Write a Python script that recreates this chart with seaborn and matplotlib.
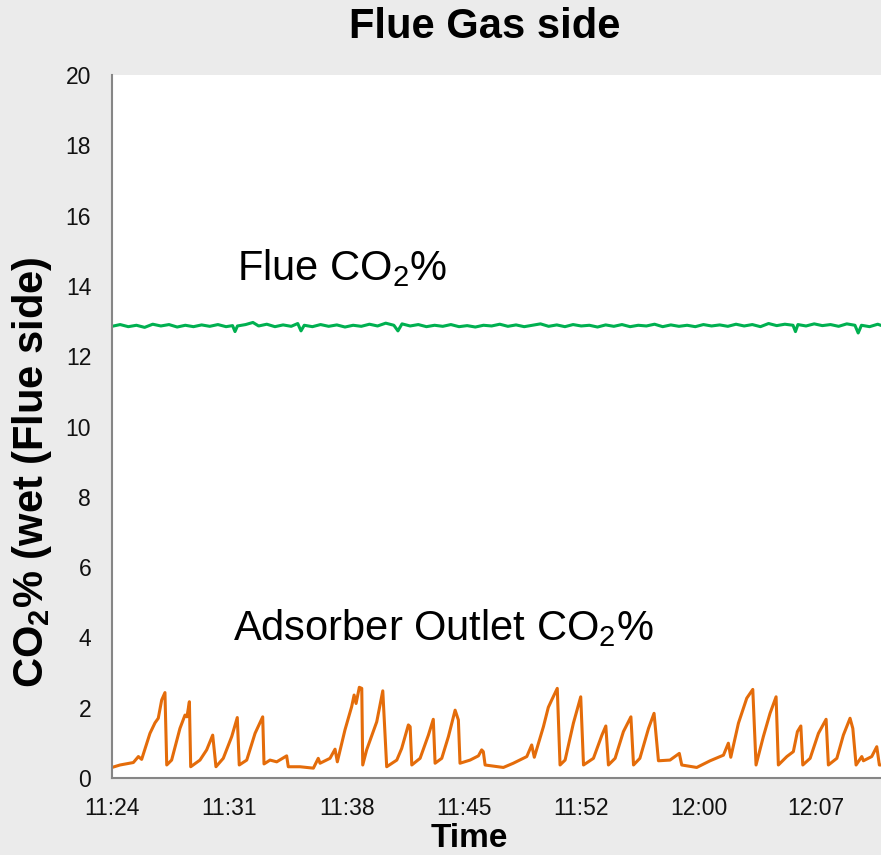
import numpy as np
import pandas as pd
import matplotlib
matplotlib.use('Agg')
import matplotlib.pyplot as plt
import seaborn as sns

# time axis in minutes after 11:24 (major unit 0.005 day = 7.2 min)
tick_min = [0, 7.2, 14.4, 21.6, 28.8, 36.0, 43.2]
tick_labels = ['11:24', '11:31', '11:38', '11:45', '11:52', '12:00', '12:07']

# adsorber outlet CO2 %
outlet_min = [0, 0.49, 1.31, 1.62, 1.82, 2.33, 2.64, 2.84, 3.05, 3.25,
              3.36, 3.66, 4.17, 4.48, 4.6, 4.75, 4.83, 5.40, 5.81, 6.18,
              6.38, 6.83, 7.35, 7.69, 7.81, 8.27, 8.78, 9.25, 9.33, 9.70,
              10.11, 10.72, 10.82, 11.54, 12.36, 12.66, 12.77, 13.38, 13.69, 13.83,
              14.30, 14.71, 14.86, 14.98, 15.18, 15.33, 15.39, 15.63, 16.25, 16.62,
              16.86, 17.48, 17.78, 18.19, 18.30, 18.40, 18.91, 19.42, 19.72, 19.83,
              20.24, 20.65, 21.06, 21.26, 21.36, 21.98, 22.49, 22.69, 22.79, 22.90,
              24.02, 24.63, 25.46, 25.76, 25.92, 26.48, 26.78, 26.99, 27.33, 27.50,
              27.81, 28.32, 28.77, 28.94, 29.55, 30.07, 30.31, 30.47, 30.88, 31.39,
              31.85, 32.01, 32.40, 32.93, 33.27, 33.54, 34.25, 34.82, 34.97, 35.89,
              36.71, 37.53, 37.83, 37.98, 38.45, 38.96, 39.33, 39.53, 39.98, 40.39,
              40.76, 40.90, 41.42, 41.82, 42.07, 42.28, 42.40, 42.85, 43.36, 43.83,
              43.97, 44.49, 44.89, 45.30, 45.47, 45.67, 46.02, 46.12, 46.63, 46.94,
              47.10, 47.3]
outlet_co2 = [0.30, 0.37, 0.44, 0.61, 0.53, 1.27, 1.57, 1.70, 2.22, 2.43,
              0.37, 0.51, 1.41, 1.79, 1.74, 2.17, 0.32, 0.51, 0.80, 1.22,
              0.32, 0.56, 1.18, 1.72, 0.37, 0.51, 1.27, 1.74, 0.40, 0.51,
              0.46, 0.63, 0.32, 0.32, 0.28, 0.56, 0.42, 0.56, 0.82, 0.46,
              1.37, 2.03, 2.36, 2.12, 2.58, 2.55, 0.37, 0.80, 1.60, 2.48,
              0.32, 0.51, 0.84, 1.51, 1.46, 0.37, 0.56, 1.22, 1.67, 0.42,
              0.56, 1.18, 1.93, 1.65, 0.42, 0.51, 0.63, 0.80, 0.75, 0.37,
              0.30, 0.42, 0.61, 0.94, 0.59, 1.46, 2.01, 2.22, 2.55, 0.37,
              0.51, 1.56, 2.31, 0.37, 0.56, 1.22, 1.48, 0.37, 0.56, 1.32,
              1.74, 0.37, 0.56, 1.41, 1.84, 0.49, 0.51, 0.70, 0.37, 0.30,
              0.49, 0.65, 0.99, 0.59, 1.56, 2.27, 2.52, 0.37, 1.18, 1.84,
              2.31, 0.37, 0.61, 0.75, 1.32, 1.48, 0.37, 0.56, 1.27, 1.67,
              0.37, 0.56, 1.22, 1.70, 1.41, 0.37, 0.61, 0.49, 0.61, 0.89,
              0.37, 0.37]

# flue gas CO2 %
flue_min = [0.0, 0.5, 1.0, 1.5, 2.0, 2.5, 3.0, 3.5, 4.0, 4.5,
            5.0, 5.5, 6.0, 6.5, 7.0, 7.4, 7.55, 7.7, 8.2, 8.65,
            9.0, 9.5, 10.0, 10.5, 11.0, 11.4, 11.6, 11.8, 12.3, 12.8,
            13.3, 13.8, 14.3, 14.8, 15.3, 15.8, 16.3, 16.8, 17.3, 17.55,
            17.8, 18.3, 18.8, 19.3, 19.8, 20.3, 20.8, 21.3, 21.8, 22.3,
            22.8, 23.3, 23.8, 24.3, 24.8, 25.3, 25.8, 26.3, 26.8, 27.3,
            27.8, 28.3, 28.8, 29.3, 29.8, 30.3, 30.8, 31.3, 31.8, 32.3,
            32.8, 33.3, 33.8, 34.3, 34.8, 35.3, 35.8, 36.3, 36.8, 37.3,
            37.8, 38.3, 38.8, 39.3, 39.8, 40.3, 40.8, 41.3, 41.8, 41.95,
            42.1, 42.6, 43.1, 43.6, 44.1, 44.6, 45.1, 45.6, 45.8, 46.0,
            46.5, 47.0, 47.3]
flue_co2 = [12.85, 12.90, 12.84, 12.88, 12.82, 12.91, 12.86, 12.90, 12.83, 12.88,
            12.84, 12.89, 12.85, 12.90, 12.84, 12.87, 12.70, 12.86, 12.90, 12.96,
            12.86, 12.91, 12.84, 12.89, 12.85, 12.93, 12.72, 12.88, 12.84, 12.90,
            12.85, 12.89, 12.83, 12.88, 12.85, 12.91, 12.86, 12.94, 12.88, 12.72,
            12.92, 12.86, 12.90, 12.84, 12.88, 12.85, 12.90, 12.84, 12.87, 12.83,
            12.88, 12.86, 12.91, 12.85, 12.89, 12.84, 12.88, 12.92, 12.85, 12.89,
            12.84, 12.90, 12.86, 12.88, 12.83, 12.89, 12.85, 12.90, 12.84, 12.88,
            12.86, 12.91, 12.84, 12.89, 12.85, 12.88, 12.84, 12.90, 12.86, 12.89,
            12.85, 12.91, 12.86, 12.90, 12.84, 12.93, 12.87, 12.91, 12.88, 12.70,
            12.90, 12.86, 12.92, 12.87, 12.90, 12.85, 12.92, 12.88, 12.66, 12.88,
            12.84, 12.91, 12.86]

sns.set_theme(style='white')
plt.rcParams['font.family'] = ['Liberation Sans', 'DejaVu Sans']
plt.rcParams['text.color'] = 'black'
plt.rcParams['axes.labelcolor'] = 'black'
plt.rcParams['mathtext.fontset'] = 'custom'
plt.rcParams['mathtext.rm'] = 'Liberation Sans'
plt.rcParams['mathtext.it'] = 'Liberation Sans:italic'
plt.rcParams['mathtext.bf'] = 'Liberation Sans:bold'

fig = plt.figure(figsize=(8.81, 8.55), dpi=100)
fig.patch.set_facecolor('#ebebeb')
ax = fig.add_axes([112 / 881, 77 / 855, 1 - 112 / 881, 703 / 855])
ax.set_facecolor('white')

sns.lineplot(x=flue_min, y=flue_co2, color='#00b050', linewidth=2.2, ax=ax)
sns.lineplot(x=outlet_min, y=outlet_co2, color='#e46c0a', linewidth=2.2, ax=ax)

ax.set_xlim(0, 47.2)
ax.set_ylim(0, 20)
ax.set_yticks(range(0, 21, 2))
ax.set_xticks(tick_min)
ax.set_xticklabels(tick_labels)

for s in ['top', 'right']:
    ax.spines[s].set_visible(False)
for s in ['left', 'bottom']:
    ax.spines[s].set_color('#868686')
    ax.spines[s].set_linewidth(1.5)
ax.tick_params(axis='both', direction='out', length=6, width=1.5,
               color='#868686', labelsize=16.5, labelcolor='#111111')
ax.tick_params(axis='y', pad=9)
ax.tick_params(axis='x', pad=8)

ax.text(7.65, 14.17, 'Flue CO$_2$%', fontsize=30, va='baseline', ha='left')
ax.text(7.45, 3.93, 'Adsorber Outlet CO$_2$%', fontsize=30, va='baseline', ha='left')

ax.set_xlabel('Time', fontsize=24, fontweight='bold')
ax.xaxis.set_label_coords(0.464, -0.064)
ax.set_ylabel('CO$_\\mathbf{2}$% (wet (Flue side)', fontsize=30, fontweight='bold')
ax.yaxis.set_label_coords(-0.076, 0.435)

fig.text(485 / 881, 1 - 27 / 855, 'Flue Gas side', fontsize=30,
         fontweight='bold', ha='center', va='center')

fig.savefig('out.png', dpi=100, facecolor=fig.get_facecolor())
